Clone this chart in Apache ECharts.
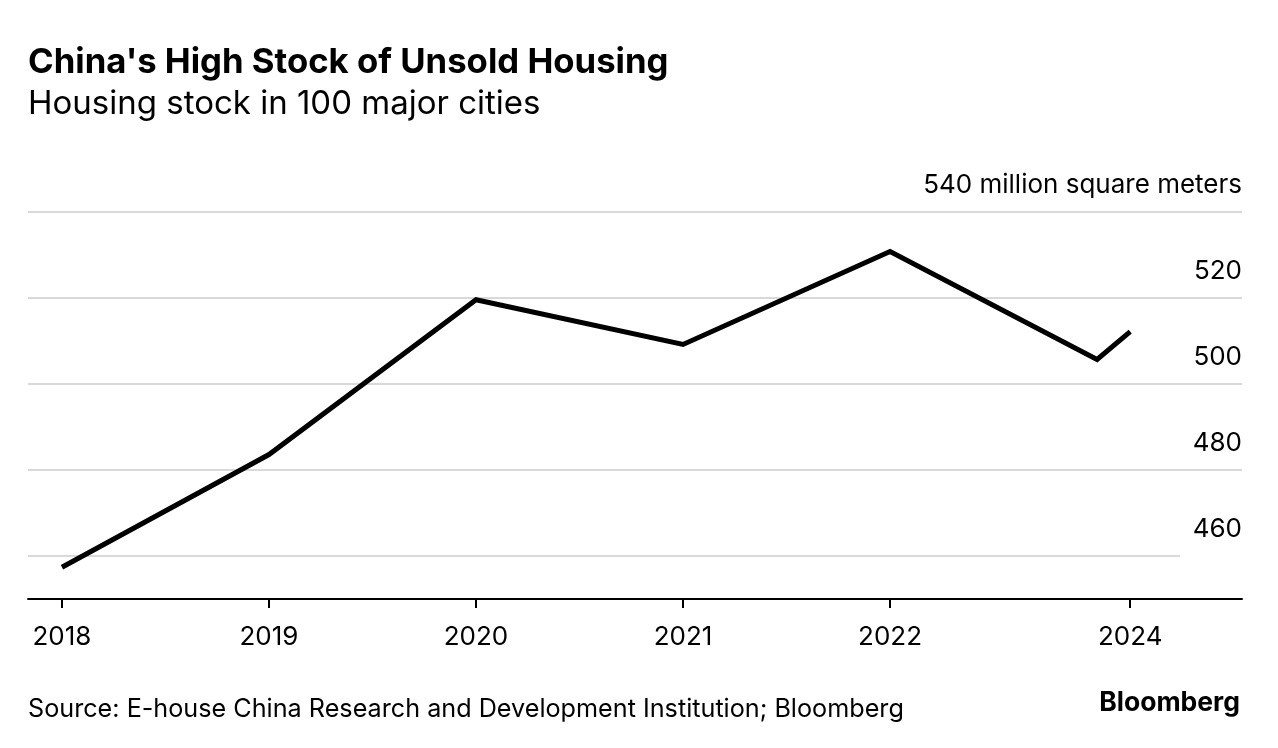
<!DOCTYPE html>
<html>
<head>
<meta charset="utf-8">
<script src="https://cdn.jsdelivr.net/npm/echarts@6/dist/echarts.min.js"></script>
<style>
html,body{margin:0;padding:0;background:#fff;}
#chart{width:1278px;height:748px;}
</style>
</head>
<body>
<div id="chart"></div>
<script>
const years = [2018, 2019, 2020, 2021, 2022, 2023, 2023.16];
const stock = [457.4, 483.6, 519.6, 509.2, 530.8, 505.7, 512.2];
const xTickValues = [2018, 2019, 2020, 2021, 2022, 2023.16];
const xTickLabels = ['2018', '2019', '2020', '2021', '2022', '2024'];
const yTickValues = [460, 480, 500, 520, 540];
const yUnit = ' million square meters';

const FONT = 'Inter, Liberation Sans, Arial, sans-serif';
const X_MIN = 2017.836, X_MAX = 2023.70;
const chart = echarts.init(document.getElementById('chart'));

const gridLines = yTickValues.map(v => {
  const end = v === 460 ? 2023.40 : X_MAX;
  return [{coord: [X_MIN, v]}, {coord: [end, v]}];
});

chart.setOption({
  animation: false,
  backgroundColor: '#fff',
  title: [
    {text: "China's High Stock of Unsold Housing", left: 28, top: 45, padding: 0,
     textStyle: {fontFamily: FONT, fontWeight: 'bold', fontSize: 34.7, color: '#000'}},
    {text: 'Housing stock in 100 major cities', left: 28, top: 88, padding: 0,
     textStyle: {fontFamily: FONT, fontWeight: 'normal', fontSize: 33, color: '#000'}},
    {text: 'Source: E-house China Research and Development Institution; Bloomberg', left: 28, top: 697, padding: 0,
     textStyle: {fontFamily: FONT, fontWeight: 'normal', fontSize: 25.2, color: '#000'}},
    {text: 'Bloomberg', right: 38, top: 690, padding: 0,
     textStyle: {fontFamily: FONT, fontWeight: 'bold', fontSize: 26.5, color: '#000'}}
  ],
  grid: {left: 28, right: 36, top: 212, bottom: 149, containLabel: false},
  xAxis: {
    type: 'value', min: X_MIN, max: X_MAX,
    axisLine: {show: true, lineStyle: {color: '#000', width: 2}},
    axisTick: {show: true, customValues: xTickValues, length: 9, lineStyle: {color: '#000', width: 2}},
    axisLabel: {customValues: xTickValues, margin: 25, fontFamily: FONT, fontSize: 26, color: '#000',
      formatter: v => { const i = xTickValues.findIndex(t => Math.abs(t - v) < 1e-6); return i >= 0 ? xTickLabels[i] : ''; }},
    splitLine: {show: false}
  },
  yAxis: {
    type: 'value', min: 450, max: 540, position: 'right',
    axisLine: {show: false}, axisTick: {show: false}, splitLine: {show: false},
    axisLabel: {customValues: yTickValues, inside: true, margin: 0, fontFamily: FONT, fontSize: 26, color: '#000',
      verticalAlign: 'bottom', padding: [0, 0, 14, 0],
      formatter: v => v === 540 ? v + yUnit : String(v)}
  },
  series: [
    {type: 'line', data: [], silent: true,
     markLine: {silent: true, symbol: 'none', label: {show: false},
       lineStyle: {color: '#d9d9d9', width: 2, type: 'solid'}, data: gridLines}},
    {type: 'line', data: years.map((y, i) => [y, stock[i]]), showSymbol: false, symbol: 'none',
     lineStyle: {color: '#000', width: 5, join: 'miter'}, z: 5}
  ]
});
</script>
</body>
</html>
